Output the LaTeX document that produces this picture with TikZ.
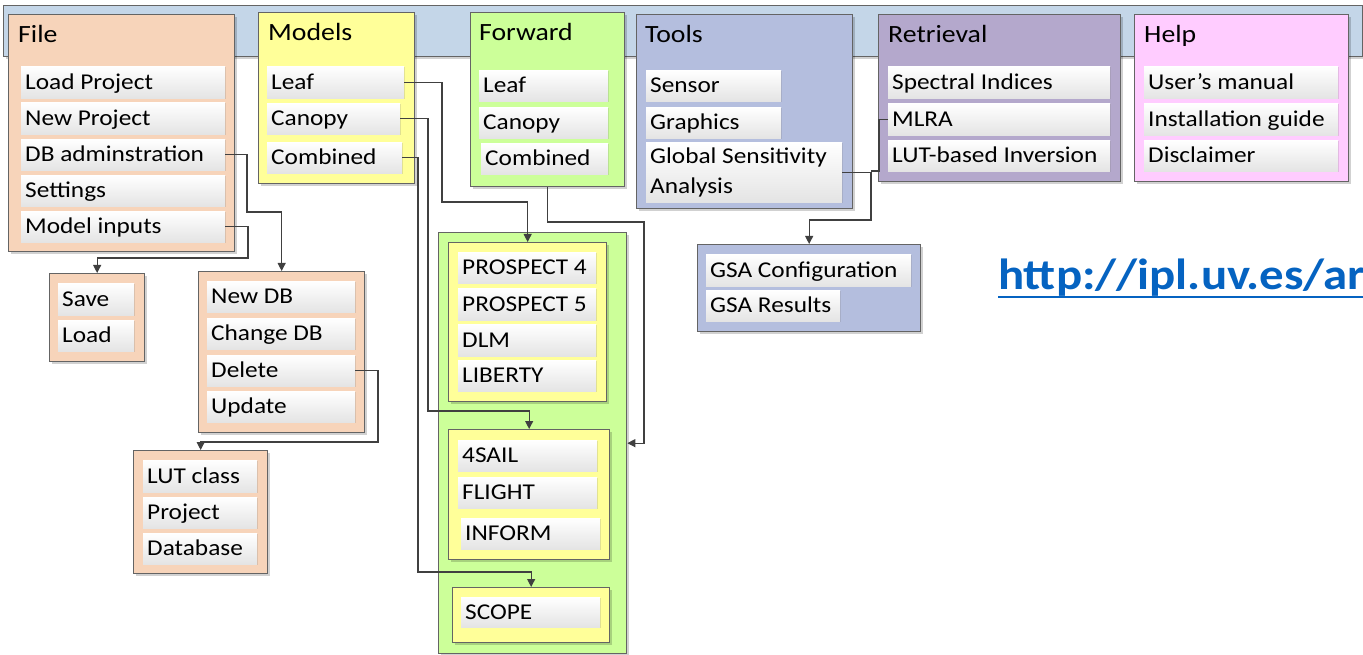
\documentclass[tikz,border=0pt]{standalone}
\usepackage{fontspec}
\setmainfont{Carlito}[FakeStretch=1.12]
\usetikzlibrary{arrows.meta,shadows}

\definecolor{barblue}{RGB}{196,214,232}
\definecolor{peach}{RGB}{247,212,186}
\definecolor{lemon}{RGB}{255,255,153}
\definecolor{lime}{RGB}{204,255,153}
\definecolor{periwinkle}{RGB}{180,190,222}
\definecolor{lilac}{RGB}{180,168,204}
\definecolor{pink}{RGB}{255,204,255}
\definecolor{boxgray}{RGB}{100,100,100}
\definecolor{linegray}{RGB}{64,64,64}
\definecolor{itemgray}{RGB}{228,228,228}
\definecolor{urlblue}{RGB}{5,99,193}

\newcommand\itemfont{\fontsize{22.6}{30}\selectfont}
\newcommand\titlefont{\fontsize{24.8}{30}\selectfont}
\newcommand\itstrut{\rule[-8pt]{0pt}{30pt}}

\tikzset{
  pnl/.style={draw=boxgray, line width=1.3pt, inner sep=0pt,
    drop shadow={shadow xshift=2.5pt, shadow yshift=-2.5pt, fill=black, opacity=0.18}},
  itm/.style={inner xsep=4pt, inner ysep=0pt, top color=white, bottom color=itemgray,
    font=\itemfont,
    drop shadow={shadow xshift=1.2pt, shadow yshift=-1.2pt, fill=black, opacity=0.12}},
  ttl/.style={font=\titlefont, inner sep=0pt, anchor=base west},
  conn/.style={draw=linegray, line width=1.1pt},
  arr/.style={conn, -{Triangle[width=8pt,length=8pt]}},
}

% panel: name, x1, y1, x2, y2, fill
\newcommand\panel[6]{\node[pnl, fill=#6, anchor=north west,
  minimum width={(#4-#2)*1pt}, minimum height={(#5-#3)*1pt}] (#1) at (#2,#3) {};}
% menu entry: name, x1, y1, x2, y2, text
\newcommand\mitem[6]{\node[itm, anchor=north west,
  minimum width={(#4-#2)*1pt}, minimum height={(#5-#3)*1pt}] (#1) at (#2,#3)
  {\makebox[\dimexpr #4pt-#2pt-8pt\relax][l]{\itstrut#6}};}

\begin{document}
\begin{tikzpicture}[x=1pt,y=-1pt]
\useasboundingbox (0,0) rectangle (1363,655);

% menu bar
\node[pnl, fill=barblue, anchor=north west, minimum width=1359pt, minimum height=51pt,
  drop shadow={opacity=0}] (menubar) at (3,5) {};

% drop-down panels
\panel{pFile}{8}{14}{234}{251}{peach}
\panel{pModels}{258}{12}{414}{183}{lemon}
\panel{pFwd}{470}{12}{624}{186}{lime}
\panel{pTools}{636}{14}{852}{208}{periwinkle}
\panel{pRet}{878}{14}{1120}{181}{lilac}
\panel{pHelp}{1134}{14}{1348}{181}{pink}

% sub-menus
\panel{pSL}{49}{273}{144}{361}{peach}
\panel{pDB}{198}{271}{364}{432}{peach}
\panel{pLUT}{133}{450}{267}{573}{peach}
\panel{pGreen}{438}{232}{626}{653}{lime}
\panel{pLeafM}{448}{242}{606}{401}{lemon}
\panel{pCanM}{448}{429}{609}{559}{lemon}
\panel{pComM}{452}{587}{609}{642}{lemon}
\panel{pGSA}{697}{244}{920}{331}{periwinkle}

% titles
\node[ttl] (tFile) at (18,43) {File};
\node[ttl] (tModels) at (268,41) {Models};
\node[ttl] (tFwd) at (479,41) {Forward};
\node[ttl] (tTools) at (645,43) {Tools};
\node[ttl] (tRet) at (888,43) {Retrieval};
\node[ttl] (tHelp) at (1144,43) {Help};

% File
\mitem{fLoad}{21}{66}{225}{98}{Load Project}
\mitem{fNew}{21}{102}{225}{134}{New Project}
\mitem{fDB}{21}{139}{225}{170}{DB adminstration}
\mitem{fSet}{21}{175}{225}{206}{Settings}
\mitem{fMI}{21}{211}{225}{242}{Model inputs}

% Models
\mitem{mLeaf}{267}{66}{404}{98}{Leaf}
\mitem{mCan}{267}{103}{400}{134}{Canopy}
\mitem{mCom}{267}{142}{402}{173}{Combined}

% Forward
\mitem{wLeaf}{479}{70}{608}{101}{Leaf}
\mitem{wCan}{479}{107}{608}{138}{Canopy}
\mitem{wCom}{481}{143}{608}{174}{Combined}

% Tools
\mitem{tSen}{646}{70}{781}{101}{Sensor}
\mitem{tGra}{646}{107}{781}{138}{Graphics}
\mitem{tGSA}{646}{142}{842}{198}{\begin{tabular}{@{}l@{}}Global Sensitivity\\Analysis\end{tabular}}

% Retrieval
\mitem{rSI}{888}{66}{1110}{98}{Spectral Indices}
\mitem{rMLRA}{888}{103}{1110}{135}{MLRA}
\mitem{rLUT}{888}{140}{1110}{171}{LUT-based Inversion}

% Help
\mitem{hMan}{1144}{66}{1338}{98}{User’s manual}
\mitem{hIns}{1144}{103}{1338}{135}{Installation guide}
\mitem{hDis}{1144}{140}{1338}{171}{Disclaimer}

% Model inputs sub-menu
\mitem{sSave}{58}{283}{134}{315}{Save}
\mitem{sLoad}{58}{320}{134}{351}{Load}

% DB administration sub-menu
\mitem{dNew}{207}{281}{355}{312}{New DB}
\mitem{dChg}{207}{318}{355}{349}{Change DB}
\mitem{dDel}{207}{355}{355}{386}{Delete}
\mitem{dUpd}{207}{391}{355}{422}{Update}

% Delete sub-menu
\mitem{lLUT}{143}{460}{257}{492}{LUT class}
\mitem{lPrj}{143}{497}{257}{528}{Project}
\mitem{lDb}{143}{533}{257}{564}{Database}

% forward models
\mitem{xP4}{458}{252}{596}{283}{PROSPECT 4}
\mitem{xP5}{458}{288}{596}{320}{PROSPECT 5}
\mitem{xDLM}{458}{324}{596}{356}{DLM}
\mitem{xLib}{458}{360}{596}{391}{LIBERTY}
\mitem{xSail}{458}{440}{597}{471}{4SAIL}
\mitem{xFlight}{458}{477}{597}{508}{FLIGHT}
\mitem{xInform}{461}{518}{600}{549}{INFORM}
\mitem{xScope}{461}{597}{600}{627}{SCOPE}

% GSA sub-menu
\mitem{gConf}{706}{254}{911}{286}{GSA Configuration}
\mitem{gRes}{706}{290}{840}{321}{GSA Results}

% connector bends
\coordinate (j1) at (247,212);
\coordinate (j2) at (248,258);
\coordinate (j3) at (378,442);
\coordinate (j4) at (442,202);
\coordinate (j5) at (428,411);
\coordinate (j6) at (418,572);
\coordinate (j7) at (644,222);
\coordinate (j8) at (871,220);
\coordinate (j9) at (879,171);

% connectors
\draw[arr] (fDB.east) -| (j1) -| (pDB.north);
\draw[arr] (fMI.east) -| (j2) -| (pSL.north);
\draw[arr] (dDel.east) -| (j3) -| (pLUT.north);
\draw[arr] (mLeaf.east) -| (j4) -| (pLeafM.north);
\draw[arr] (mCan.east) -| (j5) -| (pCanM.north);
\draw[arr] (mCom.east) -| (j6) -| (pComM.north);
\draw[arr] (pFwd.south) |- (j7) |- (pGreen.east);
\draw[arr] (tGSA.east) -| (j8) -| (pGSA.north);
\draw[conn] (rMLRA.west) -| (j9) -- (j9 -| j8);

% link
\begin{scope}
  \clip (0,0) rectangle (1363,655);
  \node[anchor=base west, inner sep=0pt, text=urlblue,
    font=\bfseries\fontsize{43.6}{50}\selectfont] (url) at (998,290) {http://ipl.uv.es/ar};
  \draw[urlblue, line width=2.6pt] ([yshift=-7pt]url.base west) -- ([yshift=-7pt]url.base east);
\end{scope}
\end{tikzpicture}
\end{document}
